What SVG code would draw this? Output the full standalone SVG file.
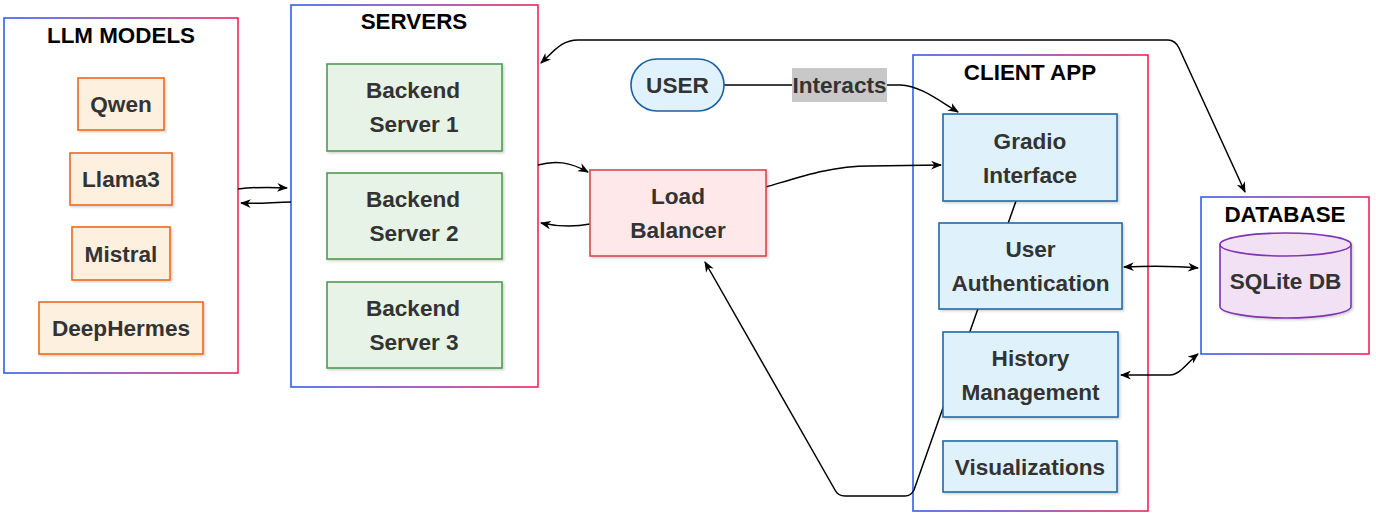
<svg xmlns="http://www.w3.org/2000/svg" width="1376" height="515" viewBox="0 0 1376 515">
<defs>
<linearGradient id="grad" x1="0" y1="0" x2="1" y2="0">
<stop offset="0" stop-color="#2f5ff0"/>
<stop offset="0.5" stop-color="#8a3fb8"/>
<stop offset="1" stop-color="#f2245a"/>
</linearGradient>
<filter id="sh" x="-10%" y="-10%" width="130%" height="130%">
<feDropShadow dx="1.5" dy="1.5" stdDeviation="1" flood-color="#000" flood-opacity="0.18"/>
</filter>
<marker id="arr" viewBox="0 0 10 8" refX="9" refY="4" markerWidth="11" markerHeight="9" markerUnits="userSpaceOnUse" orient="auto-start-reverse">
<path d="M0,0 L10,4 L0,8 L3,4 z" fill="#000"/>
</marker>
<style>
.cont{fill:#fff;stroke:url(#grad);stroke-width:1.6}
.title{font-family:"Liberation Sans",Arial,sans-serif;font-weight:bold;font-size:22.4px;fill:#000;text-anchor:middle}
.lbl{font-family:"Liberation Sans",Arial,sans-serif;font-weight:bold;font-size:22.6px;fill:#333;text-anchor:middle}
.llm{fill:#fef0df;stroke:#ee6a1e;stroke-width:1.6;filter:url(#sh)}
.srv{fill:#e6f3e6;stroke:#519a51;stroke-width:1.6;filter:url(#sh)}
.lb{fill:#ffe8ea;stroke:#d9484e;stroke-width:1.6;filter:url(#sh)}
.cl{fill:#dff2fc;stroke:#2468a6;stroke-width:1.6;filter:url(#sh)}
.edge{fill:none;stroke:#000;stroke-width:1.5}
</style>
</defs>
<rect width="1376" height="515" fill="#fff"/>

<g id="llm-models">
<rect class="cont" x="4" y="18" width="234" height="355"/>
<text class="title" x="121" y="43">LLM MODELS</text>
</g>
<g id="servers">
<rect class="cont" x="291" y="5" width="247" height="382"/>
<text class="title" x="414" y="29">SERVERS</text>
</g>
<g id="client-app">
<rect class="cont" x="913" y="55" width="235" height="456"/>
<text class="title" x="1030" y="80">CLIENT APP</text>
</g>
<g id="database">
<rect class="cont" x="1201" y="197" width="168" height="157"/>
<text class="title" x="1285" y="222">DATABASE</text>
</g>

<g id="connectors">
<path class="edge" d="M238,189 C255,187 270,187 287,188" marker-end="url(#arr)"/>
<path class="edge" d="M291,202 C275,202 258,204 241,203" marker-end="url(#arr)"/>
<path class="edge" d="M538,165 C555,160 570,162 588,172" marker-end="url(#arr)"/>
<path class="edge" d="M590,224 C570,228 555,226 541,223" marker-end="url(#arr)"/>
<path class="edge" d="M766,187 C800,177 830,166 870,166 L941,165" marker-end="url(#arr)"/>
<path class="edge" d="M724,85 L900,85 C920,86 935,98 958,112" marker-end="url(#arr)"/>
<path class="edge" d="M1016,201 L914,490 Q911,496 905,496 L845,496 Q838,496 835,490 L705,262" marker-end="url(#arr)"/>
<path class="edge" d="M541,63 C555,50 562,40 578,40 L1168,40 Q1175,40 1179,48 L1245,192" marker-start="url(#arr)" marker-end="url(#arr)"/>
<path class="edge" d="M1124,267 C1150,266 1175,266 1198,268" marker-start="url(#arr)" marker-end="url(#arr)"/>
<path class="edge" d="M1121,375 L1170,375 C1180,375 1188,362 1198,354" marker-start="url(#arr)" marker-end="url(#arr)"/>
<g id="interacts-label">
<rect x="792" y="68" width="95" height="34" fill="#c8c8c8"/>
<text class="lbl" x="839.5" y="93">Interacts</text>
</g>
</g>

<g id="qwen"><rect class="llm" x="78" y="78" width="86" height="52"/><text class="lbl" x="121" y="112">Qwen</text></g>
<g id="llama3"><rect class="llm" x="70" y="153" width="102" height="52"/><text class="lbl" x="121" y="187">Llama3</text></g>
<g id="mistral"><rect class="llm" x="72" y="227" width="98" height="53"/><text class="lbl" x="121" y="261.5">Mistral</text></g>
<g id="deephermes"><rect class="llm" x="39" y="302" width="164" height="52"/><text class="lbl" x="121" y="336">DeepHermes</text></g>

<g id="backend-1"><rect class="srv" x="327" y="64" width="175" height="87"/><text class="lbl" x="413" y="98">Backend</text><text class="lbl" x="414" y="132">Server 1</text></g>
<g id="backend-2"><rect class="srv" x="327" y="173" width="175" height="86"/><text class="lbl" x="413" y="207">Backend</text><text class="lbl" x="414" y="241">Server 2</text></g>
<g id="backend-3"><rect class="srv" x="327" y="282" width="175" height="86"/><text class="lbl" x="413" y="316">Backend</text><text class="lbl" x="414" y="350">Server 3</text></g>

<g id="load-balancer"><rect class="lb" x="590" y="170" width="176" height="86"/><text class="lbl" x="678" y="204">Load</text><text class="lbl" x="678" y="238">Balancer</text></g>

<g id="user"><rect x="631" y="59" width="93" height="52" rx="26" ry="26" fill="#dff2fd" stroke="#1b5fa0" stroke-width="1.6"/><text class="lbl" x="677.5" y="93">USER</text></g>

<g id="gradio"><rect class="cl" x="943" y="114" width="174" height="87"/><text class="lbl" x="1030" y="148.5">Gradio</text><text class="lbl" x="1030" y="182.5">Interface</text></g>
<g id="user-auth"><rect class="cl" x="939" y="223" width="183" height="86"/><text class="lbl" x="1030.5" y="257">User</text><text class="lbl" x="1030.5" y="291">Authentication</text></g>
<g id="history"><rect class="cl" x="943" y="332" width="175" height="85"/><text class="lbl" x="1030.5" y="366">History</text><text class="lbl" x="1030.5" y="400">Management</text></g>
<g id="visualizations"><rect class="cl" x="943" y="441" width="174" height="51"/><text class="lbl" x="1030" y="474.5">Visualizations</text></g>

<g id="sqlite-db">
<path d="M1220,244.5 L1220,306.5 A65.5,11.5 0 0 0 1351,306.5 L1351,244.5 A65.5,11.5 0 0 0 1220,244.5 Z" fill="#f2e1f5" stroke="#7d35b0" stroke-width="1.6" filter="url(#sh)"/>
<path d="M1220,244.5 A65.5,11.5 0 0 0 1351,244.5" fill="none" stroke="#7d35b0" stroke-width="1.6"/>
<text class="lbl" x="1285.5" y="289">SQLite DB</text>
</g>
</svg>
